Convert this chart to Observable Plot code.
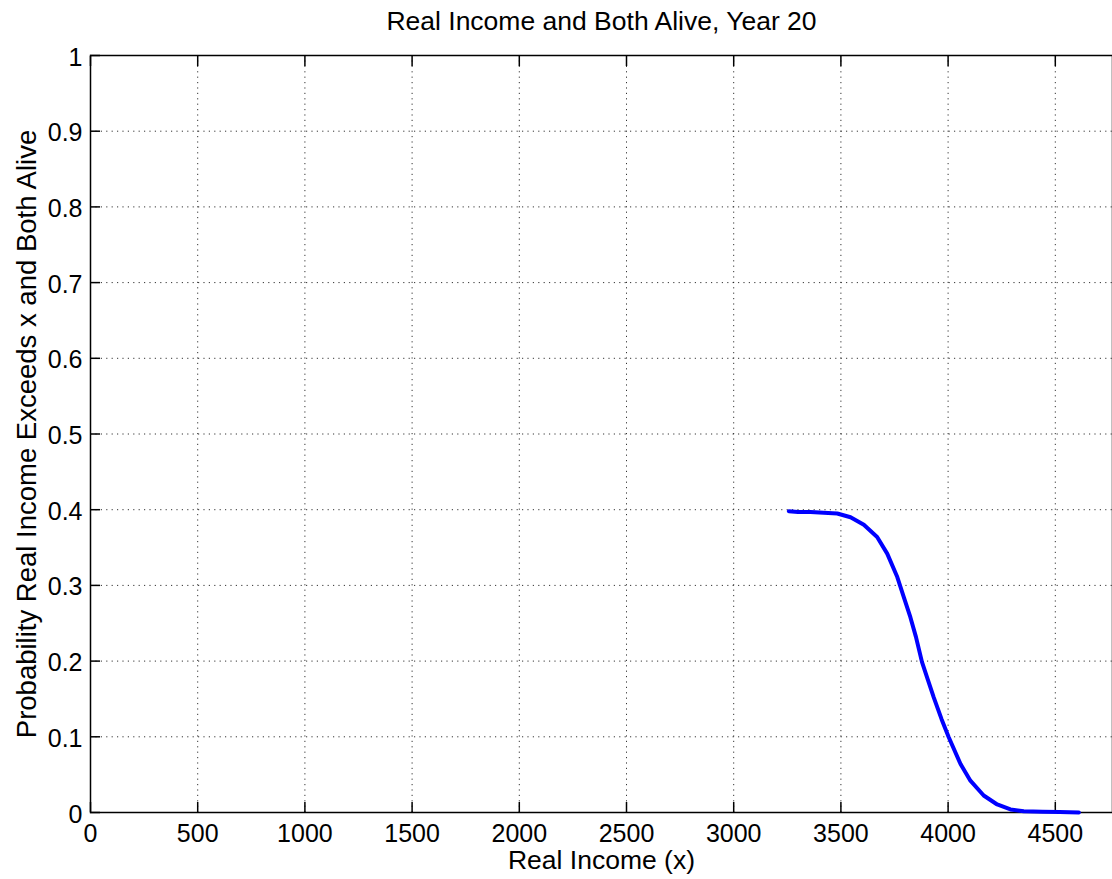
<!DOCTYPE html>
<html>
<head>
<meta charset="utf-8">
<script src="https://cdn.jsdelivr.net/npm/d3@7"></script>
<script src="https://cdn.jsdelivr.net/npm/@observablehq/plot@0.6"></script>
<style>
  html, body { margin: 0; padding: 0; background: #fff; overflow: hidden; }
  #chart svg { display: block; }
</style>
</head>
<body>
<div id="chart"></div>
<script>
const titleText = "Real Income and Both Alive, Year 20";
const xLabel = "Real Income (x)";
const yLabel = "Probability Real Income Exceeds x and Both Alive";
const xTicks = [0, 500, 1000, 1500, 2000, 2500, 3000, 3500, 4000, 4500];
const yTicks = [0, 0.1, 0.2, 0.3, 0.4, 0.5, 0.6, 0.7, 0.8, 0.9, 1];

const incomeX = [3257, 3300, 3358, 3420, 3483, 3545, 3607, 3669, 3716, 3763, 3793, 3824, 3850, 3878, 3905, 3933, 3970, 4003, 4058, 4104, 4166, 4229, 4291, 4353, 4440, 4520, 4610];
const probY   = [0.398, 0.397, 0.397, 0.396, 0.395, 0.390, 0.380, 0.364, 0.342, 0.311, 0.285, 0.258, 0.232, 0.199, 0.176, 0.152, 0.123, 0.0995, 0.064, 0.042, 0.0225, 0.0106, 0.004, 0.0017, 0.001, 0.0005, 0.0];

const data = incomeX.map((x, i) => ({x, y: probY[i]}));

const W = 1112, H = 879;
const mL = 90, mT = 55, mB = 67;
const pxPer500 = 107.2;
const axesRight = 1116;
const font = "'Liberation Sans', Arial, Helvetica, sans-serif";
const xMax = (axesRight - mL) / pxPer500 * 500;

const plot = Plot.plot({
  width: W,
  height: H,
  marginLeft: mL,
  marginTop: mT,
  marginBottom: mB,
  marginRight: 0,
  style: {fontFamily: font, fontSize: "25px", color: "#000", background: "#fff"},
  x: {domain: [0, xMax], range: [mL, axesRight]},
  y: {domain: [0, 1]},
  marks: [
    Plot.gridX(xTicks.slice(1), {stroke: "#000", strokeOpacity: 0.8, strokeDasharray: "1.2,4.2"}),
    Plot.gridY(yTicks.slice(1), {stroke: "#000", strokeOpacity: 0.8, strokeDasharray: "1.2,4.2"}),
    Plot.axisX(xTicks, {anchor: "bottom", tickSize: -10, tickFormat: () => "", label: null, strokeWidth: 1.5}),
    Plot.axisX(xTicks, {anchor: "top", tickSize: -10, tickFormat: () => "", label: null, strokeWidth: 1.5}),
    Plot.axisY(yTicks, {anchor: "left", tickSize: -10, tickFormat: () => "", label: null, strokeWidth: 1.5}),
    Plot.frame({stroke: "#000", strokeWidth: 1.5}),
    Plot.text(xTicks, {x: d => d, frameAnchor: "bottom", lineAnchor: "middle", dy: 21, text: d => String(d), fontSize: 25, fill: "#000"}),
    Plot.text(yTicks, {y: d => d, frameAnchor: "left", lineAnchor: "middle", textAnchor: "end", dx: -8, dy: 2, text: d => String(d), fontSize: 25, fill: "#000"}),
    Plot.line(data, {x: "x", y: "y", stroke: "#0000ff", strokeWidth: 4, curve: "linear"}),
    Plot.text([titleText], {frameAnchor: "top", lineAnchor: "middle", dy: -34, text: d => d, fontSize: 26.5, fill: "#000"}),
    Plot.text([xLabel], {frameAnchor: "bottom", lineAnchor: "middle", dy: 48, text: d => d, fontSize: 26.5, fill: "#000"}),
    Plot.text([yLabel], {frameAnchor: "left", lineAnchor: "middle", textAnchor: "middle", dx: -63, rotate: -90, text: d => d, fontSize: 27.5, fill: "#000", style: "letter-spacing:0.9px"})
  ]
});
document.getElementById("chart").appendChild(plot);
</script>
</body>
</html>
